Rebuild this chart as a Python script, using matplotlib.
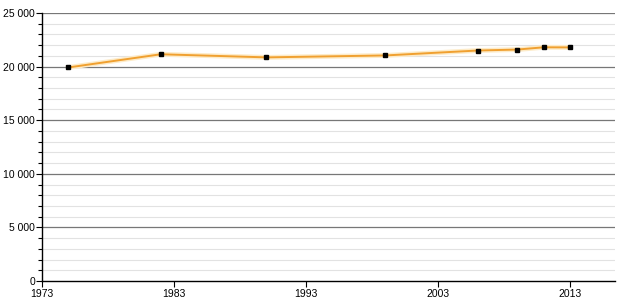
import matplotlib
matplotlib.use("Agg")
import matplotlib.pyplot as plt
from matplotlib.ticker import FuncFormatter, MultipleLocator

years = [1975, 1982, 1990, 1999, 2006, 2009, 2011, 2013]
population = [19920, 21150, 20860, 21040, 21500, 21590, 21800, 21790]
x_ticks = [1973, 1983, 1993, 2003, 2013]

plt.rcParams['font.family'] = ['Liberation Sans', 'DejaVu Sans']

fig = plt.figure(figsize=(6.2, 3.0), dpi=100)
ax = fig.add_axes([0.0677, 0.0633, 0.9243, 0.8934])

# grid: light every 1000, darker every 5000
for v in range(1000, 25001, 1000):
    if v % 5000 == 0:
        ax.axhline(v, color='#777777', lw=0.9, zorder=1)
    else:
        ax.axhline(v, color='#e2e2e2', lw=0.8, zorder=1)

ax.plot(years, population, color='#fdebc8', lw=3.5, zorder=2)
ax.plot(years, population, color='#f0a030', lw=1.4, zorder=3)
ax.plot(years, population, ls='none', marker='s', ms=3.5, color='black', zorder=4)

ax.set_xlim(1973, 2016.4)
ax.set_ylim(0, 25000)
ax.set_xticks(x_ticks)
ax.yaxis.set_major_locator(MultipleLocator(5000))
ax.yaxis.set_minor_locator(MultipleLocator(1000))
ax.yaxis.set_major_formatter(FuncFormatter(lambda v, p: f"{int(v):,}".replace(",", " ")))

for s in ['top', 'right']:
    ax.spines[s].set_visible(False)
for s in ['left', 'bottom']:
    ax.spines[s].set_color('black')
    ax.spines[s].set_linewidth(1.0)

ax.tick_params(axis='both', labelsize=7.5, colors='black', length=4, width=0.8, pad=1)
ax.tick_params(axis='y', which='minor', length=3, width=0.8)
ax.tick_params(axis='x', pad=2)

fig.savefig('out.png', dpi=100)
